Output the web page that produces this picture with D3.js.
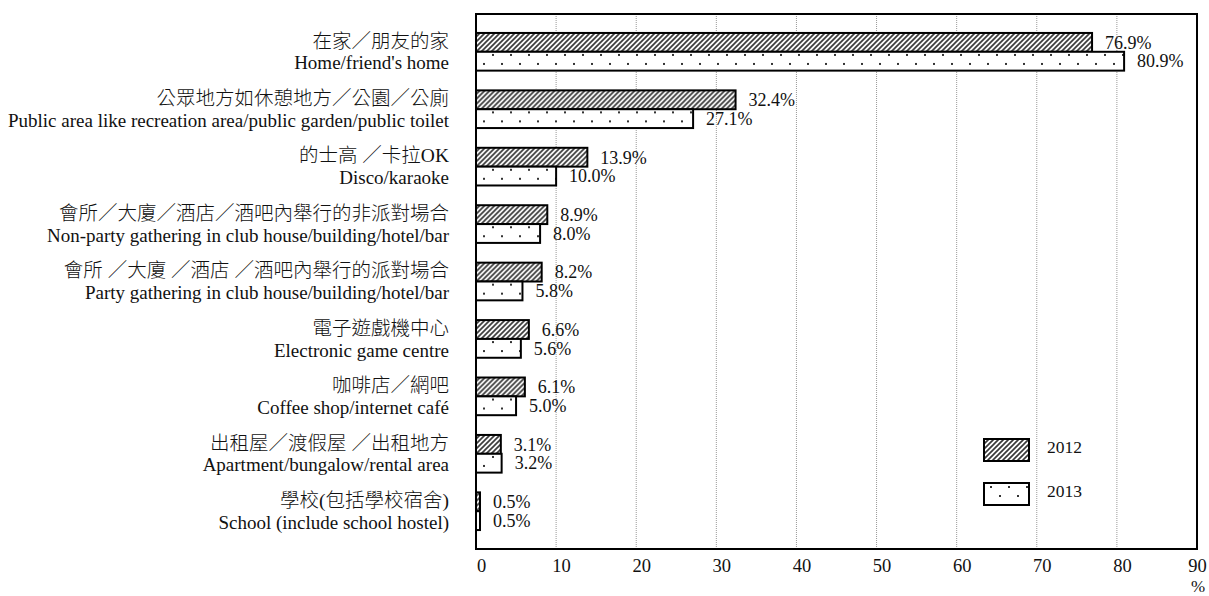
<!DOCTYPE html>
<html>
<head>
<meta charset="utf-8">
<script src="https://cdn.jsdelivr.net/npm/d3@7"></script>
<style>
  body { margin: 0; background: #fff; }
  text { font-family: "Liberation Serif", "Noto Sans CJK TC", serif; fill: #111; }
</style>
</head>
<body>
<div id="chart"></div>
<script>
// 地點 / place categories
const labelsZh = [
  "在家／朋友的家",
  "公眾地方如休憩地方／公園／公廁",
  "的士高 ／卡拉OK",
  "會所／大廈／酒店／酒吧內舉行的非派對場合",
  "會所 ／大廈 ／酒店 ／酒吧內舉行的派對場合",
  "電子遊戲機中心",
  "咖啡店／網吧",
  "出租屋／渡假屋 ／出租地方",
  "學校(包括學校宿舍)"
];
const labelsEn = [
  "Home/friend's home",
  "Public area like recreation area/public garden/public toilet",
  "Disco/karaoke",
  "Non-party gathering in club house/building/hotel/bar",
  "Party gathering in club house/building/hotel/bar",
  "Electronic game centre",
  "Coffee shop/internet café",
  "Apartment/bungalow/rental area",
  "School (include school hostel)"
];
const years = ["2012", "2013"];
const values2012 = [76.9, 32.4, 13.9, 8.9, 8.2, 6.6, 6.1, 3.1, 0.5];
const values2013 = [80.9, 27.1, 10.0, 8.0, 5.8, 5.6, 5.0, 3.2, 0.5];
const xTicks = [0, 10, 20, 30, 40, 50, 60, 70, 80, 90];

function init() {
    const width = 1209, height = 596;
    const left = 476, right = 1197, top = 14, bottom = 549;

    const svg = d3.select("#chart").append("svg")
        .attr("width", width)
        .attr("height", height);

    // 圖案填充
    const defs = svg.append("defs");
    const hatch = defs.append("pattern")
        .attr("id", "hatch")
        .attr("patternUnits", "userSpaceOnUse")
        .attr("width", 5).attr("height", 5);
    hatch.append("rect").attr("width", 5).attr("height", 5).attr("fill", "#fff");
    hatch.append("path")
        .attr("d", "M-1,1 l2,-2 M0,5 l5,-5 M4,6 l2,-2")
        .attr("stroke", "#3a3a3a")
        .attr("stroke-width", 1.7);

    const dots = defs.append("pattern")
        .attr("id", "dots")
        .attr("patternUnits", "userSpaceOnUse")
        .attr("width", 18).attr("height", 18);
    dots.append("rect").attr("width", 18).attr("height", 18).attr("fill", "#fff");
    dots.append("rect").attr("x", 6).attr("y", 3).attr("width", 2).attr("height", 2).attr("fill", "#333");
    dots.append("rect").attr("x", 15).attr("y", 12).attr("width", 2).attr("height", 2).attr("fill", "#333");

    const fills = { "2012": "url(#hatch)", "2013": "url(#dots)" };

    const x = d3.scaleLinear().domain([0, 90]).range([left, right]);
    const y0 = d3.scaleBand()
        .domain(d3.range(labelsZh.length))
        .range([top, bottom])
        .paddingInner(0.344)
        .paddingOuter(0.33);
    const y1 = d3.scaleBand()
        .domain(years)
        .range([0, y0.bandwidth()]);

    // 格線
    svg.append("g")
        .selectAll("line")
        .data(xTicks.slice(1, -1))
        .enter().append("line")
        .attr("x1", d => x(d)).attr("x2", d => x(d))
        .attr("y1", top).attr("y2", bottom)
        .attr("stroke", "#999")
        .attr("stroke-width", 1)
        .attr("stroke-dasharray", "1,1");

    // 條形
    const rows = labelsZh.map((d, i) => ({ i, vals: [values2012[i], values2013[i]] }));
    const groups = svg.selectAll(".grp")
        .data(rows)
        .enter().append("g")
        .attr("class", "grp")
        .attr("transform", d => `translate(0,${y0(d.i)})`);

    groups.selectAll("rect")
        .data(d => years.map((yr, j) => ({ yr, v: d.vals[j] })))
        .enter().append("rect")
        .attr("x", x(0))
        .attr("y", d => y1(d.yr))
        .attr("width", d => x(d.v) - x(0))
        .attr("height", y1.bandwidth())
        .attr("fill", d => fills[d.yr])
        .attr("stroke", "#000")
        .attr("stroke-width", 2);

    groups.selectAll(".val")
        .data(d => years.map((yr, j) => ({ yr, v: d.vals[j] })))
        .enter().append("text")
        .attr("class", "val")
        .attr("x", d => x(d.v) + 13)
        .attr("y", d => y1(d.yr) + y1.bandwidth() / 2)
        .attr("dy", "0.35em")
        .style("font-size", "18px")
        .text(d => d.v.toFixed(1) + "%");

    // 類別標籤
    groups.append("text")
        .attr("x", 449)
        .attr("y", y0.bandwidth() / 2 - 11)
        .attr("dy", "0.35em")
        .attr("text-anchor", "end")
        .style("font-size", "19.5px")
        .style("font-weight", 300)
        .text(d => labelsZh[d.i]);
    groups.append("text")
        .attr("x", 449)
        .attr("y", y0.bandwidth() / 2 + 11)
        .attr("dy", "0.35em")
        .attr("text-anchor", "end")
        .style("font-size", "19px")
        .text(d => labelsEn[d.i]);

    // 外框
    svg.append("rect")
        .attr("x", left).attr("y", top)
        .attr("width", right - left).attr("height", bottom - top)
        .attr("fill", "none")
        .attr("stroke", "#000")
        .attr("stroke-width", 2);

    // X軸
    const xAxis = svg.append("g")
        .attr("transform", `translate(0,${bottom})`)
        .call(d3.axisBottom(x).tickValues(xTicks).tickSize(0).tickPadding(10));
    xAxis.select(".domain").remove();
    xAxis.selectAll("text")
        .attr("dx", d => d === 90 ? 0 : 5)
        .style("font-size", "18.5px")
        .style("font-family", "\"Liberation Serif\", serif")
        .attr("fill", "#111");

    svg.append("text")
        .attr("x", 1198).attr("y", 586)
        .attr("dy", "0.35em")
        .attr("text-anchor", "middle")
        .style("font-size", "17px")
        .text("%");

    // 圖例
    const legend = svg.selectAll(".legend")
        .data(years)
        .enter().append("g")
        .attr("class", "legend")
        .attr("transform", (d, i) => `translate(984,${439 + i * 44})`);
    legend.append("rect")
        .attr("width", 45).attr("height", 22)
        .attr("fill", d => fills[d])
        .attr("stroke", "#000")
        .attr("stroke-width", 2);
    legend.append("text")
        .attr("x", 63).attr("y", 8)
        .attr("dy", "0.35em")
        .style("font-size", "17.5px")
        .text(d => d);
}

window.onload = init;
</script>
</body>
</html>
